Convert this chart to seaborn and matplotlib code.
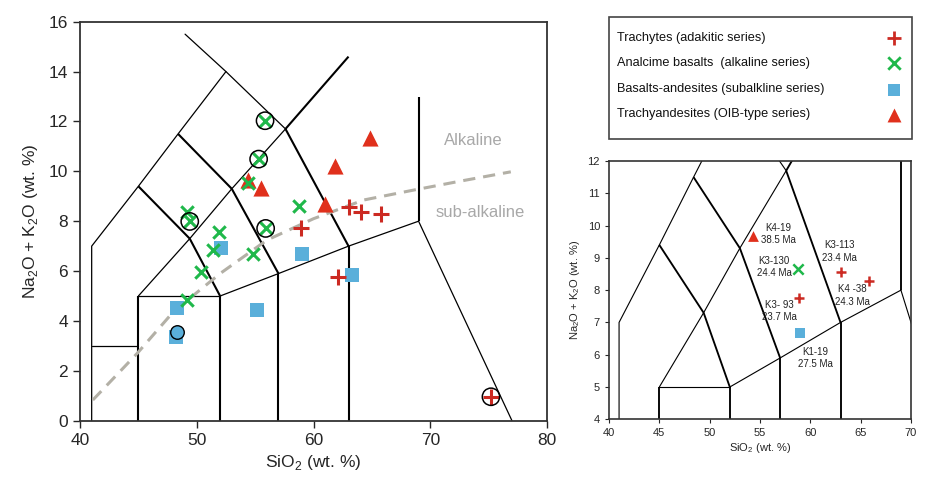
import matplotlib
matplotlib.use("Agg")
import matplotlib.pyplot as plt
import seaborn as sns
import pandas as pd
from matplotlib.patches import Rectangle

sns.set_style("ticks")
plt.rcParams['font.family'] = ['Liberation Sans', 'DejaVu Sans']
plt.rcParams['mathtext.fontset'] = 'custom'
plt.rcParams['mathtext.rm'] = 'Liberation Sans'

# ---------------- data (left panel) ----------------
trach_sio2 = [63.0, 64.1, 65.8, 58.9, 62.1, 75.2]
trach_alk = [8.56, 8.38, 8.29, 7.74, 5.77, 0.96]

anal_sio2 = [55.85, 55.3, 54.4, 58.8, 49.2, 49.4, 55.9, 51.9, 51.4, 54.85, 50.4, 49.2]
anal_alk = [12.03, 10.49, 9.54, 8.62, 8.37, 7.99, 7.71, 7.55, 6.84, 6.67, 5.98, 4.84]

basand_sio2 = [52.1, 59.0, 63.3, 55.2, 48.3, 48.2]
basand_alk = [6.94, 6.68, 5.84, 4.44, 4.52, 3.37]

trachy_sio2 = [64.8, 61.8, 54.4, 55.5, 61.0]
trachy_alk = [11.32, 10.23, 9.65, 9.34, 8.69]

# dated samples (open circles)
dated_sio2 = [55.85, 55.3, 49.4, 55.9, 75.2]
dated_alk = [12.03, 10.49, 7.99, 7.71, 0.96]
dated_blue_sio2 = [48.35]
dated_blue_alk = [3.57]

# Irvine & Baragar alkaline/sub-alkaline divide
ib_sio2 = [41.1, 44.9, 48.0, 52.0, 56.0, 60.0, 64.3, 68.6, 72.5, 76.9]
ib_alk = [0.83, 2.70, 4.37, 5.90, 7.24, 8.10, 8.85, 9.25, 9.60, 9.98]

# ---------------- data (right panel, dated samples) ----------------
r_names = ["K4-19\n38.5 Ma", "K3-130\n24.4 Ma", "K3-113\n23.4 Ma",
           "K4 -38\n24.3 Ma", "K3- 93\n23.7 Ma", "K1-19\n27.5 Ma"]
r_series = ["Trachyandesites", "Analcime", "Trachytes", "Trachytes", "Trachytes", "Basalts-andesites"]
r_sio2 = [54.3, 58.8, 63.0, 65.8, 58.9, 59.0]
r_alk = [9.68, 8.64, 8.57, 8.29, 7.75, 6.68]
r_lab_sio2 = [56.8, 56.4, 62.9, 64.2, 56.9, 60.5]
r_lab_alk = [9.74, 8.72, 9.20, 7.84, 7.35, 5.90]

# TAS field boundaries (SiO2, Na2O+K2O vertices)
tas_thick = [
    [(45, 0), (45, 5)],
    [(52, 0), (52, 5)],
    [(57, 0), (57, 5.9)],
    [(63, 0), (63, 7)],
    [(69, 8), (69, 13)],
    [(45, 9.4), (49.4, 7.3)],
    [(49.4, 7.3), (52, 5)],
    [(48.4, 11.5), (53, 9.3)],
    [(53, 9.3), (57, 5.9)],
    [(57.6, 11.7), (63, 7)],
    [(57.6, 11.7), (63, 14.6)],
]
tas_thin = [
    [(41, 0), (41, 7), (45, 9.4), (48.4, 11.5), (52.5, 14), (49.0, 15.5)],
    [(41, 3), (45, 3)],
    [(45, 5), (52, 5)],
    [(45, 5), (49.4, 7.3)],
    [(49.4, 7.3), (53, 9.3), (57.6, 11.7)],
    [(52.5, 14), (57.6, 11.7)],
    [(52, 5), (57, 5.9), (63, 7), (69, 8)],
    [(69, 8), (77, 0)],
]

legend_labels = ["Trachytes (adakitic series)", "Analcime basalts  (alkaline series)",
                 "Basalts-andesites (subalkline series)", "Trachyandesites (OIB-type series)"]

RED_C = "#cc2a22"
RED_T = "#e0301c"
GREEN = "#1fb84a"
BLUE = "#5aafda"
GREY = "#b3b0a6"

styles = {
    "Trachytes": dict(marker="+", color=RED_C),
    "Analcime": dict(marker="x", color=GREEN),
    "Basalts-andesites": dict(marker="s", color=BLUE),
    "Trachyandesites": dict(marker="^", color=RED_T),
}

fig = plt.figure(figsize=(9.26, 4.78), dpi=100)
axL = fig.add_axes([80 / 926, (478 - 420.7) / 478, 467 / 926, 399 / 478])
axR = fig.add_axes([609 / 926, (478 - 419.3) / 478, 302 / 926, 258.3 / 478])
axG = fig.add_axes([609 / 926, (478 - 139) / 478, 303 / 926, 122 / 478])


def draw_tas(ax, f=1.0):
    for seg in tas_thick:
        xs, ys = zip(*seg)
        ax.plot(xs, ys, color="black", lw=1.5 * f, zorder=1, solid_capstyle="butt")
    for seg in tas_thin:
        xs, ys = zip(*seg)
        ax.plot(xs, ys, color="black", lw=0.9 * f, zorder=1)


def scatter(ax, x, y, key, s, lw):
    st = styles[key]
    df = pd.DataFrame({"x": x, "y": y})
    if st["marker"] in ("+", "x"):
        sns.scatterplot(data=df, x="x", y="y", ax=ax, marker=st["marker"], color=st["color"],
                        s=s, linewidth=lw, zorder=4, legend=False)
    else:
        sns.scatterplot(data=df, x="x", y="y", ax=ax, marker=st["marker"], color=st["color"],
                        s=s, linewidth=0, zorder=3, legend=False)


# ---------------- left panel ----------------
draw_tas(axL)
axL.plot(ib_sio2, ib_alk, color=GREY, lw=2.2, dashes=(4, 2.6), zorder=2)
scatter(axL, basand_sio2, basand_alk, "Basalts-andesites", 90, 0)
sns.scatterplot(x=dated_blue_sio2, y=dated_blue_alk, ax=axL, marker="o", color=BLUE,
                edgecolor="black", s=95, linewidth=1.0, zorder=3, legend=False)
scatter(axL, trachy_sio2, trachy_alk, "Trachyandesites", 135, 0)
scatter(axL, anal_sio2, anal_alk, "Analcime", 80, 2.2)
scatter(axL, trach_sio2, trach_alk, "Trachytes", 125, 2.2)
sns.scatterplot(x=dated_sio2, y=dated_alk, ax=axL, marker="o", facecolor="none",
                edgecolor="black", s=155, linewidth=1.1, zorder=5, legend=False)

axL.text(73.7, 11.25, "Alkaline", color="#a8a8a8", fontsize=12, ha="center", va="center")
axL.text(74.3, 8.33, "sub-alkaline", color="#a8a8a8", fontsize=12, ha="center", va="center")

axL.set_xlim(40, 80)
axL.set_ylim(0, 16)
axL.set_xticks([40, 50, 60, 70, 80])
axL.set_yticks(range(0, 17, 2))
axL.tick_params(labelsize=12.5, length=5, width=1, direction="out")
axL.set_xlabel("SiO$_2$ (wt. %)", fontsize=12.5, labelpad=4)
axL.set_ylabel("Na$_2$O + K$_2$O (wt. %)", fontsize=12.5, labelpad=6)
for sp in axL.spines.values():
    sp.set_linewidth(1.3)
    sp.set_color("#333333")

# ---------------- right panel ----------------
draw_tas(axR, 0.9)
for xv, yv, key in zip(r_sio2, r_alk, r_series):
    st = styles[key]
    if st["marker"] in ("+", "x"):
        sns.scatterplot(x=[xv], y=[yv], ax=axR, marker=st["marker"], color=st["color"],
                        s=55, linewidth=1.8, zorder=4, legend=False)
    else:
        sns.scatterplot(x=[xv], y=[yv], ax=axR, marker=st["marker"], color=st["color"],
                        s=60, linewidth=0, zorder=4, legend=False)
for lx, ly, name in zip(r_lab_sio2, r_lab_alk, r_names):
    axR.text(lx, ly, name, fontsize=7, ha="center", va="center", color="#222222",
             linespacing=1.3, zorder=6)

axR.set_xlim(40, 70)
axR.set_ylim(4, 12)
axR.set_xticks(range(40, 71, 5))
axR.set_yticks(range(4, 13))
axR.tick_params(labelsize=8, length=3, width=0.8, direction="out")
axR.set_xlabel("SiO$_2$ (wt. %)", fontsize=8, labelpad=2)
axR.set_ylabel("Na$_2$O + K$_2$O (wt. %)", fontsize=8, labelpad=4)
for sp in axR.spines.values():
    sp.set_linewidth(1.2)
    sp.set_color("#333333")

# ---------------- legend box ----------------
axG.set_xlim(0, 1)
axG.set_ylim(0, 1)
axG.axis("off")
axG.add_patch(Rectangle((0, 0), 1, 1, transform=axG.transAxes, fill=False,
                        edgecolor="#444444", lw=1.2, clip_on=False))
keys = ["Trachytes", "Analcime", "Basalts-andesites", "Trachyandesites"]
row_y = [0.825, 0.625, 0.41, 0.205]
for yv, key, lab in zip(row_y, keys, legend_labels):
    axG.text(0.025, yv, lab, fontsize=9.2, ha="left", va="center", color="#111111")
    st = styles[key]
    if st["marker"] in ("+", "x"):
        axG.scatter([0.94], [yv], marker=st["marker"], color=st["color"],
                    s=110 if key == "Trachytes" else 80, linewidths=2.0)
    else:
        axG.scatter([0.94], [yv - 0.01], marker=st["marker"], color=st["color"],
                    s=100 if key == "Trachyandesites" else 80, linewidths=0)

fig.savefig("out.png", dpi=100)
